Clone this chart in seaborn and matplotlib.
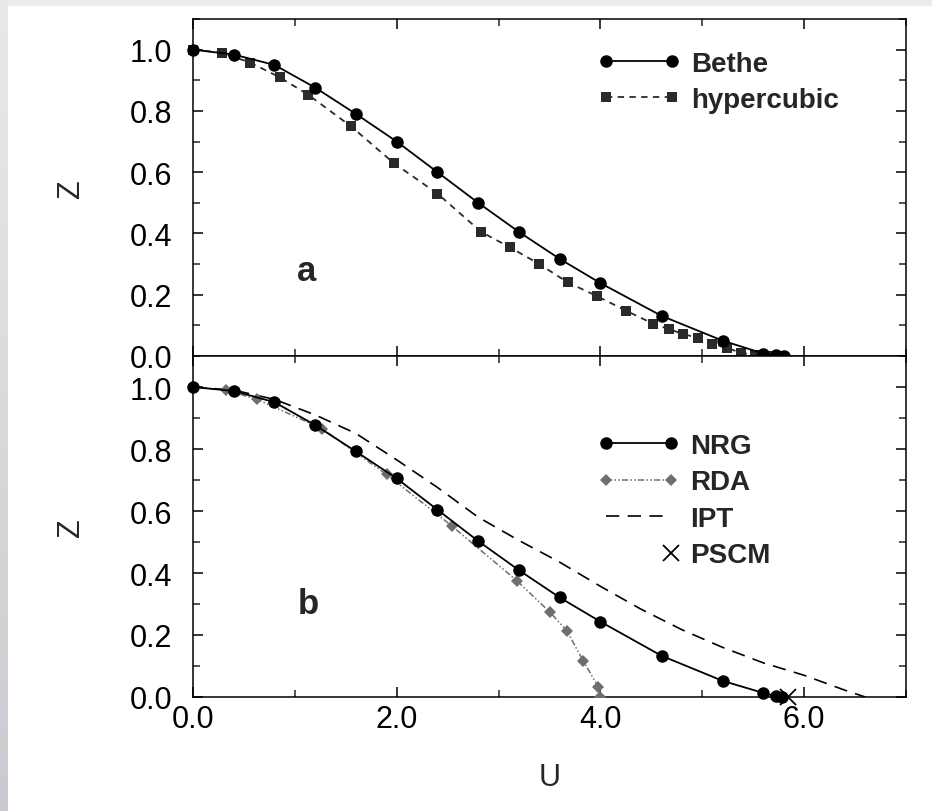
import numpy as np
import matplotlib
matplotlib.use('Agg')
import matplotlib.pyplot as plt
import seaborn as sns
from matplotlib.legend_handler import HandlerLine2D
from matplotlib.ticker import MultipleLocator, FormatStrFormatter
from matplotlib.colors import LinearSegmentedColormap
from matplotlib.patches import Rectangle

# panel a: Bethe lattice vs hypercubic lattice
bethe_u = [0.0, 0.4, 0.8, 1.2, 1.6, 2.0, 2.4, 2.8, 3.2, 3.6, 4.0, 4.6, 5.2, 5.6, 5.72, 5.8]
bethe_z = [1.0, 0.984, 0.95, 0.876, 0.79, 0.70, 0.60, 0.50, 0.405, 0.317, 0.238, 0.131, 0.05, 0.008, 0.002, 0.0]

hyper_u = [0.0, 0.28, 0.56, 0.85, 1.13, 1.55, 1.97, 2.4, 2.83, 3.11, 3.4, 3.68, 3.97,
           4.25, 4.52, 4.67, 4.81, 4.96, 5.1, 5.24, 5.38, 5.52, 5.6, 5.69, 5.76]
hyper_z = [1.0, 0.99, 0.958, 0.91, 0.853, 0.75, 0.63, 0.53, 0.405, 0.355, 0.30, 0.24, 0.195,
           0.148, 0.105, 0.088, 0.072, 0.059, 0.04, 0.027, 0.01, 0.003, 0.002, 0.001, 0.0]

# panel b: NRG, RDA, IPT, PSCM
nrg_u = [0.0, 0.4, 0.8, 1.2, 1.6, 2.0, 2.4, 2.8, 3.2, 3.6, 4.0, 4.6, 5.2, 5.6, 5.72, 5.78]
nrg_z = [1.0, 0.987, 0.951, 0.877, 0.792, 0.705, 0.604, 0.503, 0.409, 0.321, 0.243, 0.133, 0.052, 0.013, 0.003, 0.0]

rda_u = [0.0, 0.32, 0.63, 1.27, 1.9, 2.54, 3.18, 3.5, 3.67, 3.83, 3.98, 4.0]
rda_z = [1.0, 0.99, 0.96, 0.865, 0.718, 0.552, 0.375, 0.275, 0.214, 0.117, 0.032, 0.0]

ipt_u = [0.0, 0.4, 0.8, 1.2, 1.6, 2.0, 2.4, 2.8, 3.2, 3.6, 4.0, 4.4, 4.8, 5.2, 5.6, 6.0, 6.4, 6.6]
ipt_z = [1.0, 0.99, 0.96, 0.91, 0.85, 0.765, 0.676, 0.58, 0.505, 0.435, 0.357, 0.283, 0.217, 0.16, 0.11, 0.07, 0.022, 0.0]

pscm_u = [5.84]
pscm_z = [0.0]

x_ticks = [0.0, 2.0, 4.0, 6.0]
y_ticks = [0.0, 0.2, 0.4, 0.6, 0.8, 1.0]

sns.set_style('ticks')
plt.rcParams['font.family'] = ['Liberation Sans', 'DejaVu Sans']
plt.rcParams.update({
    'xtick.direction': 'in', 'ytick.direction': 'in',
    'xtick.top': True, 'ytick.right': True,
    'axes.linewidth': 1.1,
})


class RightMarker(HandlerLine2D):
    # legend handle with the marker only at the right end
    def create_artists(self, *args, **kwargs):
        arts = super().create_artists(*args, **kwargs)
        for a in arts:
            a.set_markevery([len(a.get_xdata()) - 1])
        return arts


fig = plt.figure(figsize=(9.32, 8.12), dpi=100)

# grey frame strips like the screenshot
strip = fig.add_axes([0, 0, 8 / 932, 1])
strip.imshow(np.linspace(0, 1, 100).reshape(-1, 1), aspect='auto',
             cmap=LinearSegmentedColormap.from_list('g', ['#e9e9e9', '#c8ccd0']))
strip.axis('off')
fig.add_artist(Rectangle((0, 1 - 6 / 812), 1, 6 / 812, transform=fig.transFigure,
                         color='#ececec', zorder=0))

ax_a = fig.add_axes([193 / 932, 1 - 357 / 812, 713 / 932, 337 / 812])
ax_b = fig.add_axes([193 / 932, 1 - 698 / 812, 713 / 932, 341 / 812])

# panel a
sns.lineplot(x=bethe_u, y=bethe_z, ax=ax_a, color='black', lw=1.3, marker='o',
             markersize=9, markeredgecolor='black', markeredgewidth=0,
             label='Bethe', sort=False, estimator=None, clip_on=False, zorder=4)
sns.lineplot(x=hyper_u, y=hyper_z, ax=ax_a, color='#2a2a2a', lw=1.3, ls=(0, (3.5, 3)),
             marker='s', markersize=7, markeredgecolor='#2a2a2a', markeredgewidth=0,
             label='hypercubic', sort=False, estimator=None, clip_on=False, zorder=3)

# panel b
sns.lineplot(x=ipt_u, y=ipt_z, ax=ax_b, color='black', lw=1.2, ls=(0, (8, 5)),
             label='IPT', sort=False, estimator=None, zorder=2)
sns.lineplot(x=rda_u, y=rda_z, ax=ax_b, color='#6e6e6e', lw=1.1,
             ls=(0, (4, 1.5, 1, 1.5, 1, 1.5)), marker='D', markersize=6,
             markeredgecolor='#6e6e6e', markeredgewidth=0,
             label='RDA', sort=False, estimator=None, zorder=3)
sns.lineplot(x=nrg_u, y=nrg_z, ax=ax_b, color='black', lw=1.3, marker='o',
             markersize=9, markeredgecolor='black', markeredgewidth=0,
             label='NRG', sort=False, estimator=None, clip_on=False, zorder=4)
sns.lineplot(x=pscm_u, y=pscm_z, ax=ax_b, color='black', ls='none', marker='x',
             markersize=12, markeredgecolor='black', markeredgewidth=1.3, label='PSCM',
             estimator=None, clip_on=False, zorder=5)

for ax in (ax_a, ax_b):
    ax.set_xlim(0, 7.0)
    ax.set_ylim(0, 1.1)
    ax.set_xticks(x_ticks)
    ax.xaxis.set_minor_locator(MultipleLocator(1.0))
    ax.set_yticks(y_ticks)
    ax.yaxis.set_minor_locator(MultipleLocator(0.1))
    ax.xaxis.set_major_formatter(FormatStrFormatter('%.1f'))
    ax.yaxis.set_major_formatter(FormatStrFormatter('%.1f'))
    ax.tick_params(which='major', length=7, width=1.1, labelsize=22, colors='black')
    ax.tick_params(which='minor', length=5, width=1.1)
    ax.tick_params(axis='y', which='major', pad=15)
    ax.tick_params(axis='x', which='major', pad=5)
    for s in ax.spines.values():
        s.set_color('black')
    ax.set_ylabel('Z', fontsize=22)
    ax.yaxis.set_label_coords(-0.15, 0.5)

ax_a.tick_params(axis='x', labelbottom=False)
ax_a.set_xlabel('')
ax_b.set_xlabel('U', fontsize=22)
ax_b.xaxis.set_label_coords(0.5, -0.19)

ax_a.text(1.12, 0.28, 'a', fontsize=25, fontweight='bold', ha='center', va='center')
ax_b.text(1.13, 0.30, 'b', fontsize=25, fontweight='bold', ha='center', va='center')

leg_font = {'size': 20, 'weight': 'bold'}
h, l = ax_a.get_legend_handles_labels()
ax_a.legend(h, l, loc='upper left', bbox_to_anchor=(0.568, 0.905), frameon=False,
            prop=leg_font, numpoints=2, handlelength=2.95, handletextpad=0.4,
            labelspacing=0.35, borderpad=0, borderaxespad=0)

h, l = ax_b.get_legend_handles_labels()
order = [l.index(n) for n in ['NRG', 'RDA', 'IPT', 'PSCM']]
hb = [h[i] for i in order]
lb = [l[i] for i in order]
ax_b.legend(hb, lb, loc='upper left', bbox_to_anchor=(0.567, 0.775), frameon=False,
            prop=leg_font, numpoints=2, handlelength=2.95, handletextpad=0.4,
            labelspacing=0.38, borderpad=0, borderaxespad=0,
            handler_map={hb[3]: RightMarker()})

fig.savefig('out.png', dpi=100)
